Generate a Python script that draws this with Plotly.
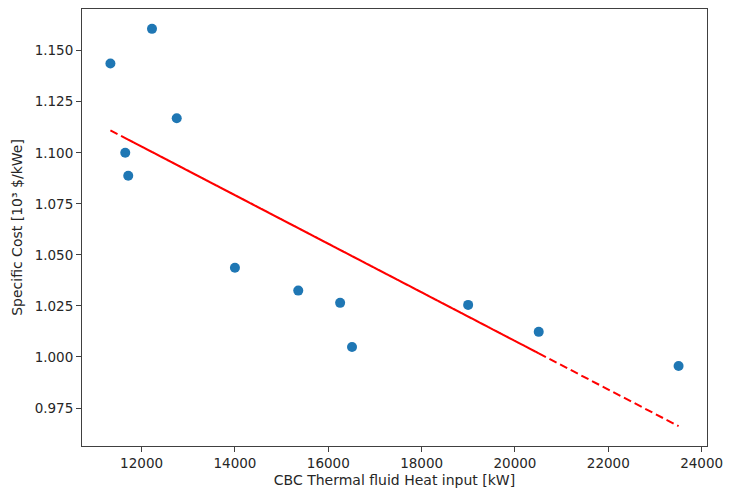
import numpy as np
import plotly.graph_objects as go

# CBC thermal-fluid heat input [kW] and specific cost [10^3 $/kWe]
heat_input_kw = [11332, 20509, 11650, 18997, 11714, 16509, 12223, 16254, 12753, 15357, 14000, 23506]
specific_cost = [1.1437, 1.0123, 1.1000, 1.0255, 1.0888, 1.0049, 1.1607, 1.0265, 1.1169, 1.0325, 1.0437, 0.9956]

x = np.array(heat_input_kw, dtype=float)
y = np.array(specific_cost, dtype=float)

# linear least-squares trend, evaluated at the sample x values (unsorted)
coef = np.polyfit(x, y, 1)
y_fit = np.polyval(coef, x)

def padded(lo, hi, frac=0.05):
    span = hi - lo
    return [lo - frac * span, hi + frac * span]

x_range = padded(x.min(), x.max())
y_all = np.concatenate([y, y_fit])
y_range = padded(y_all.min(), y_all.max())

fig = go.Figure()
fig.add_trace(go.Scatter(
    x=x, y=y, mode="markers",
    marker=dict(color="#1f77b4", size=10, line=dict(width=0)),
    showlegend=False, hoverinfo="x+y",
))
fig.add_trace(go.Scatter(
    x=x, y=y_fit, mode="lines",
    line=dict(color="#ff0000", width=2, dash="8px,4px", simplify=False),
    showlegend=False, hoverinfo="skip",
))

axis_common = dict(
    showgrid=False, zeroline=False,
    showline=True, linecolor="#404040", linewidth=1, mirror=True,
    ticks="outside", ticklen=5, tickwidth=1, tickcolor="#404040",
    tickfont=dict(family="DejaVu Sans", size=13.5, color="#262626"),
)

fig.update_layout(
    width=731, height=496,
    margin=dict(l=82, r=19, t=8, b=50),
    paper_bgcolor="white", plot_bgcolor="white",
    font=dict(family="DejaVu Sans", size=13.5, color="#262626"),
    xaxis=dict(
        range=x_range, dtick=2000, tick0=0, tickformat="d",
        title=dict(text="CBC Thermal fluid Heat input [kW]", standoff=4,
                   font=dict(family="DejaVu Sans", size=14)),
        **axis_common,
    ),
    yaxis=dict(
        range=y_range, dtick=0.025, tick0=0.975, tickformat=".3f",
        title=dict(text="Specific Cost [10³ $/kWe]", standoff=8,
                   font=dict(family="DejaVu Sans", size=14)),
        **axis_common,
    ),
)

fig.write_html("out.html")
